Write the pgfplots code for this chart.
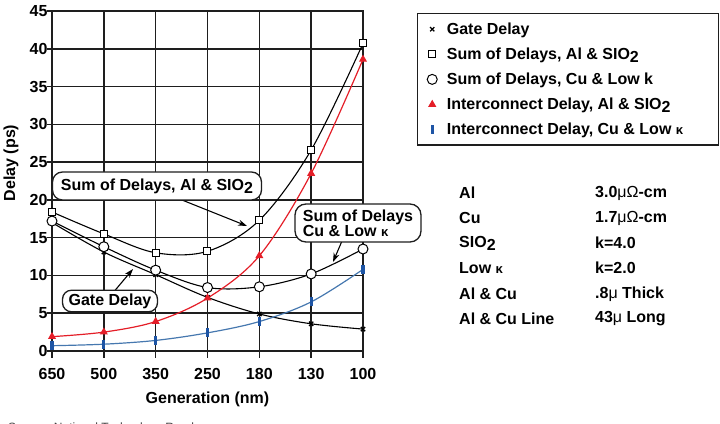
\documentclass[border=0pt]{standalone}
\usepackage{fontspec}
\setmainfont{Liberation Sans}
\usepackage{pgfplots}
\pgfplotsset{compat=1.18}
\usetikzlibrary{arrows.meta}
\definecolor{myred}{RGB}{228,30,40}
\definecolor{myblue}{RGB}{70,120,175}
\definecolor{mybluemark}{RGB}{30,85,165}
\definecolor{gridc}{RGB}{30,30,30}
\newcommand{\sub}[1]{\raisebox{-0.35ex}{#1}}
\newcommand{\fs}[1]{\bfseries\fontsize{#1bp}{#1bp}\selectfont}
\newcommand{\kap}{{\fontsize{13bp}{13bp}\selectfont κ}}

\begin{document}
\begin{tikzpicture}
\path[use as bounding box] (0,0) rectangle (720bp,424bp);
% grid as thin filled bars (behind the curves)
\begin{scope}[x=1bp, y=-1bp, yshift=424bp]
  \foreach \i in {1,...,5} {
    \fill[gridc] ({52+311*\i/6-0.8},11) rectangle ({52+311*\i/6+0.8},351);
  }
  \foreach \i in {0,...,6} {
    \fill[gridc] ({52+311*\i/6-0.8},351) rectangle ({52+311*\i/6+0.8},358);
  }
  \foreach \j in {1,...,8} {
    \fill[gridc] (52,{351-340*\j/9-0.8}) rectangle (363,{351-340*\j/9+0.8});
  }
  \foreach \j in {0,...,9} {
    \fill[gridc] (47,{351-340*\j/9-0.8}) rectangle (52,{351-340*\j/9+0.8});
  }
\end{scope}
\begin{axis}[
  scale only axis, width=311bp, height=340bp,
  at={(52bp,73bp)}, anchor=south west,
  xmin=0, xmax=6, ymin=0, ymax=45,
  xtick={0,...,6}, xticklabels={650,500,350,250,180,130,100},
  ytick={0,5,...,45},
  axis line style={draw=gridc, line width=1.6bp},
  major tick length=0pt,
  /pgf/number format/assume math mode=true,
  ticklabel style={font=\fs{16}},
  xticklabel style={yshift=-14bp},
  yticklabel style={xshift=-1bp},
  xlabel={Generation (nm)}, ylabel={Delay (ps)},
  label style={font=\fs{16}},
  xlabel style={at={(axis description cs:0.5,-0.141)}, anchor=center},
  ylabel style={at={(axis description cs:-0.132,0.553)}, anchor=center},
  legend image code/.code={\path (-6bp,0bp) (12bp,0bp); \draw[#1] plot[only marks] coordinates {(0bp,0bp)};},
  legend cell align=left,
  legend style={at={(axis description cs:1.1736,0.994)}, anchor=north west,
    draw=gridc, line width=1.3bp, font=\fs{16}, row sep=8bp,
    inner xsep=8bp, inner ysep=7bp},
]
\addplot[black, line width=1.1bp, smooth, tension=0.55, mark=x, mark size=3bp,
  mark options={line width=1.3bp, black}]
  coordinates {(0,17.0)(1,13.1)(2,10.1)(3,7.1)(4,4.9)(5,3.6)(6,2.9)};
\addlegendentry{\makebox[262bp][l]{Gate Delay}}
\addplot[black, line width=1.1bp, smooth, tension=0.55, mark=square*, mark size=3.5bp,
  mark options={line width=1bp, fill=white, draw=black}]
  coordinates {(0,18.4)(1,15.5)(2,13.0)(3,13.2)(4,17.3)(5,26.6)(6,40.7)};
\addlegendentry{Sum of Delays, Al \& SIO\sub{2}}
\addplot[black, line width=1.1bp, smooth, tension=0.55, mark=*, mark size=5bp,
  mark options={line width=1bp, fill=white, draw=black}]
  coordinates {(0,17.2)(1,13.8)(2,10.7)(3,8.4)(4,8.5)(5,10.2)(6,13.5)};
\addlegendentry{Sum of Delays, Cu \& Low k}
\addplot[myred, line width=1.2bp, smooth, tension=0.55, mark=triangle*, mark size=3.5bp,
  mark options={fill=myred, draw=myred}]
  coordinates {(0,1.9)(1,2.5)(2,3.9)(3,7.0)(4,12.6)(5,23.5)(6,38.6)};
\addlegendentry{Interconnect Delay, Al \& SIO\sub{2}}
\addplot[myblue, line width=1.2bp, smooth, tension=0.55, mark=|, mark size=4.5bp,
  mark options={line width=3.2bp, draw=mybluemark}]
  coordinates {(0,0.7)(1,0.9)(2,1.4)(3,2.4)(4,3.9)(5,6.5)(6,10.8)};
\addlegendentry{Interconnect Delay, Cu \& Low \kap}
\end{axis}

\begin{scope}[x=1bp, y=-1bp, yshift=424bp]
  % arrows
  \draw[line width=1.1bp, -{Stealth[length=9bp,width=6bp]}] (177,198) -- (247,226);
  \draw[line width=1.1bp, -{Stealth[length=9bp,width=6bp]}] (112,294) -- (133,269);
  \draw[line width=1.1bp, -{Stealth[length=9bp,width=6bp]}] (342,241) -- (333,262);
  % callout boxes
  \node[draw=gridc, line width=1.3bp, rounded corners=10bp, fill=white, inner xsep=2bp,
    minimum height=28bp, minimum width=209bp, font=\fs{16}] at (157,186)
    {Sum of Delays, Al \& SIO\sub{2}};
  \node[draw=gridc, line width=1.3bp, rounded corners=9bp, fill=white, inner xsep=2bp,
    minimum height=19bp, minimum width=95bp, font=\fs{16}] at (110,301)
    {Gate Delay};
  \node[draw=gridc, line width=1.3bp, rounded corners=11bp, fill=white, inner xsep=4bp,
    minimum height=38bp, minimum width=126bp, font={\bfseries\fontsize{16bp}{15bp}\selectfont}, align=left] at (358,223)
    {Sum of Delays\\Cu \& Low \kap};
  % properties table
  \begin{scope}[every node/.style={anchor=west, font=\fs{16}, inner sep=0pt}]
    \node at (459,193) {Al};          \node at (595,193) {3.0{\mdseries μΩ}-cm};
    \node at (459,218) {Cu};          \node at (595,218) {1.7{\mdseries μΩ}-cm};
    \node at (459,243) {SIO\sub{2}};  \node at (595,243) {k=4.0};
    \node at (459,268) {Low \kap};    \node at (595,268) {k=2.0};
    \node at (459,294) {Al \& Cu};    \node at (595,294) {.8{\mdseries μ} Thick};
    \node at (459,319) {Al \& Cu Line}; \node at (595,319) {43{\mdseries μ} Long};
  \end{scope}
  \node[anchor=west, font=\fontsize{12bp}{12bp}\selectfont, text=black!75, inner sep=0pt]
    at (8,428) {Source: National Technology Roadmap};
\end{scope}
\end{tikzpicture}
\end{document}
